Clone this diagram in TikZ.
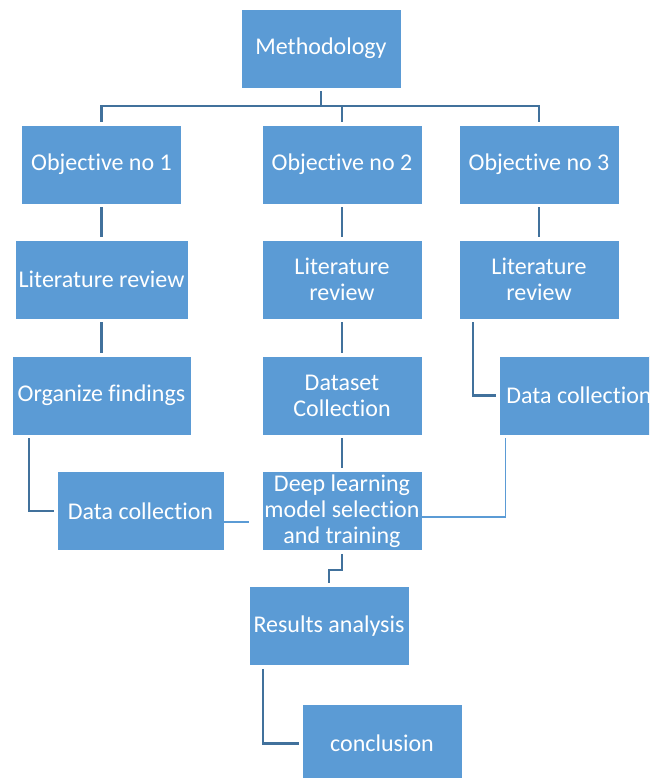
\documentclass[tikz,border=0pt]{standalone}
\usepackage{fontspec}
\setmainfont{Carlito}[Ligatures=NoCommon]
\definecolor{boxblue}{RGB}{91,155,213}
\definecolor{linkblue}{RGB}{65,113,156}

\begin{document}
\begin{tikzpicture}[x=1pt,y=-1pt]
\tikzstyle{every node}=[rectangle,fill=boxblue,draw=white,line width=0.8pt,text=white,inner sep=0pt,minimum width=160pt,minimum height=79pt,align=center,font=\fontsize{24}{26}\selectfont]
\tikzstyle{link}=[line width=2.2pt,linkblue,shorten <=3pt,shorten >=3pt]
\tikzstyle{thinlink}=[line width=1.2pt,boxblue]

\useasboundingbox (0,0) rectangle (649,778);
\clip (0,0) rectangle (649,778);

\begin{scope}
\node (meth) at (321,48.5) {Methodology};
\node (obj1) at (101.5,164.5) {Objective no 1};
\node (obj2) at (342,164.5) {Objective no 2};
\node (obj3) at (539,164.5) {Objective no 3};
\node (lit1) at (101.5,279.5) [minimum width=173pt] {Literature review};
\node (lit2) at (342,279.5) {Literature\\review};
\node (lit3) at (539,279.5) {Literature\\review};
\node (org) at (101.5,395.5) [minimum width=179pt] {Organize findings};
\node (set) at (342,395.5) {Dataset\\Collection};
\node (dc3) at (579,395.5) {Data collection};
\node (dc1) at (140.5,511) [minimum width=167pt] {Data collection};
\node (deep) at (342,511) {Deep learning\\model selection\\and training};
\node (res) at (329,626) {Results analysis};
\node (conc) at (382,743.5) {conclusion};
\coordinate (bus) at (321,106);

\draw[link,shorten >=0pt] (meth) -- (bus);
\draw[link,shorten <=0pt] (bus) -| (obj1);
\draw[link,shorten <=0pt] (bus) -| (obj2);
\draw[link,shorten <=0pt] (bus) -| (obj3);
\draw[link] (obj1) -- (lit1);
\draw[link] (obj2) -- (lit2);
\draw[link] (obj3) -- (lit3);
\draw[link] (lit1) -- (org);
\draw[link] (lit2) -- (set);
\draw[link] ([xshift=-66pt]lit3.south) |- (dc3);
\draw[link] ([xshift=17pt]org.south west) |- (dc1);
\draw[link] (set) -- (deep);
\draw[thinlink,shorten >=13pt] ([yshift=-11pt]dc1.east) -- ([yshift=-11pt]deep.west);
\draw[thinlink,shorten >=3pt] ([yshift=-6pt]deep.east) -| ([xshift=7pt]dc3.south west);
\draw[link] (deep.south) -- ++(0,19) -| (res);
\draw[link] ([xshift=14pt]res.south west) |- (conc);
\end{scope}

\end{tikzpicture}
\end{document}
